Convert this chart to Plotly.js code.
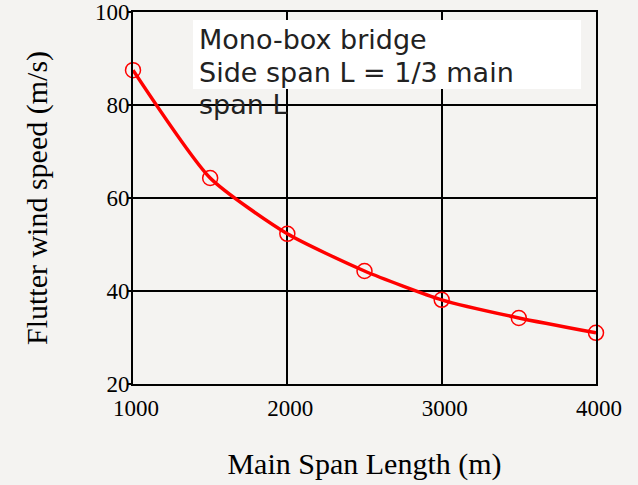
<!DOCTYPE html>
<html>
<head>
<meta charset="utf-8">
<script src="https://cdn.plot.ly/plotly-3.0.1.min.js"></script>
<style>html,body{margin:0;padding:0;background:#f4f3f1;}</style>
</head>
<body>
<div id="chart" style="width:638px;height:485px;"></div>
<script>
const spanLength = [1000, 1500, 2000, 2500, 3000, 3500, 4000];
const flutterSpeed = [87.5, 64.3, 52.3, 44.3, 38.1, 34.2, 31.0];
const xTicks = [1000, 2000, 3000, 4000];
const yTicks = [20, 40, 60, 80, 100];
const noteLines = ['Mono-box bridge', 'Side span L = 1/3 main', 'span L'];

const trace = {
  x: spanLength,
  y: flutterSpeed,
  mode: 'lines+markers',
  line: {color: '#ff0000', width: 3.5, shape: 'spline', smoothing: 0.6},
  marker: {symbol: 'circle-open', size: 15, color: '#ff0000', line: {width: 1.5, color: '#ff0000'}},
  showlegend: false,
  cliponaxis: false
};

const serif = '"Liberation Serif", "Times New Roman", serif';
const PL = 133, PR = 596, PT = 12, PB = 384;
const px2x = x => (x - PL) / (PR - PL);
const px2y = y => (PB - y) / (PB - PT);
const lineCenters = [39.7, 72.2, 104.7];

const layout = {
  width: 638, height: 485,
  paper_bgcolor: '#f4f3f1',
  plot_bgcolor: '#f4f3f1',
  margin: {l: 133, r: 42, t: 12, b: 101},
  xaxis: {
    range: [1000, 4000],
    tickvals: xTicks,
    ticktext: xTicks.map(String),
    showgrid: true, gridcolor: '#000', gridwidth: 2,
    showline: true, linecolor: '#000', linewidth: 2, mirror: true,
    zeroline: false,
    ticks: '',
    ticklabelstandoff: 2,
    ticklabelshift: 3,
    tickfont: {family: serif, size: 23, color: '#000'},
    title: {text: 'Main Span Length (m)', font: {family: serif, size: 30, color: '#000'}, standoff: 33}
  },
  yaxis: {
    range: [20, 100],
    tickvals: yTicks,
    ticktext: yTicks.map(String),
    showgrid: true, gridcolor: '#000', gridwidth: 2,
    showline: true, linecolor: '#000', linewidth: 2, mirror: true,
    zeroline: false,
    ticks: 'outside', ticklen: 3, tickwidth: 2, tickcolor: '#000',
    ticklabelstandoff: -6,
    tickfont: {family: serif, size: 23, color: '#000'},
    title: {text: 'Flutter wind speed (m/s)', font: {family: serif, size: 30, color: '#000'}, standoff: 38}
  },
  shapes: [{
    type: 'rect', xref: 'paper', yref: 'paper', layer: 'above',
    x0: px2x(193), x1: px2x(581),
    y0: px2y(89), y1: px2y(20),
    fillcolor: '#ffffff', line: {width: 0}
  }],
  annotations: noteLines.map((t, i) => ({
    xref: 'paper', yref: 'paper',
    x: px2x(197), y: px2y(lineCenters[i]),
    xanchor: 'left', yanchor: 'middle', align: 'left',
    showarrow: false,
    text: t,
    font: {family: '"DejaVu Sans", Verdana, sans-serif', size: 27, color: '#222'}
  }))
};

Plotly.newPlot('chart', [trace], layout, {displayModeBar: false, staticPlot: true});
</script>
</body>
</html>
